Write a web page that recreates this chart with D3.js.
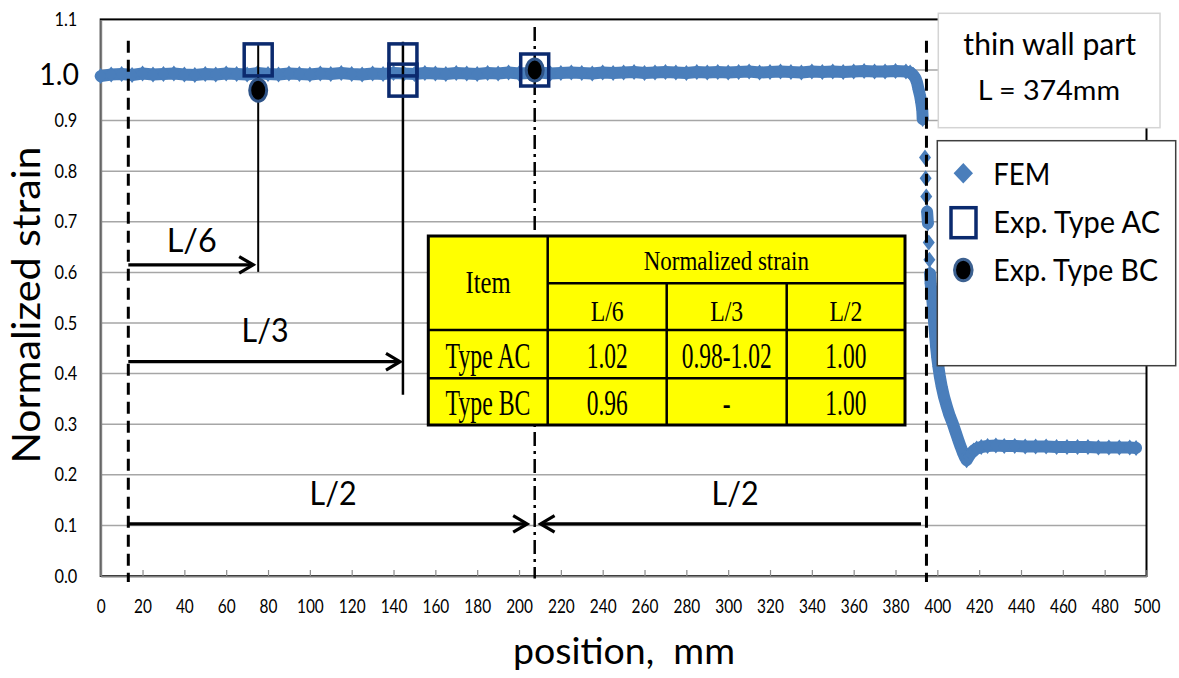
<!DOCTYPE html>
<html>
<head>
<meta charset="utf-8">
<script src="https://cdn.jsdelivr.net/npm/d3@7"></script>
<style>
  html, body { margin: 0; padding: 0; background: #fff; }
  svg { display: block; }
  text { font-family: Lato, "Open Sans", "Noto Sans", sans-serif; fill: #000; }
  .serif { font-family: "Liberation Serif", "Times New Roman", serif; }
</style>
</head>
<body>
<svg id="chart" width="1179" height="678"></svg>
<script>
// ---------------- data ----------------
const xTickValues = [0, 20, 40, 60, 80, 100, 120, 140, 160, 180, 200, 220, 240, 260, 280,
  300, 320, 340, 360, 380, 400, 420, 440, 460, 480, 500];
const yTickValues = [0.0, 0.1, 0.2, 0.3, 0.4, 0.5, 0.6, 0.7, 0.8, 0.9, 1.0, 1.1];

// FEM strain distribution along the part (position in mm, normalized strain)
const femPosition = [
  0, 5, 10, 15, 20, 25, 30, 35, 40, 45,
  50, 55, 60, 65, 70, 75, 80, 85, 90, 95,
  100, 105, 110, 115, 120, 125, 130, 135, 140, 145,
  150, 155, 160, 165, 170, 175, 180, 185, 190, 195,
  200, 205, 210, 215, 220, 225, 230, 235, 240, 245,
  250, 255, 260, 265, 270, 275, 280, 285, 290, 295,
  300, 305, 310, 315, 320, 325, 330, 335, 340, 345,
  350, 355, 360, 365, 370, 375, 380, 385,
  387, 388.5, 389.5, 390.3, 391, 391.7, 392.3, 392.8, 393.0,
  394.1, 394.4, 394.7, 395.1, 395.5, 395.9, 396.2, 396.5, 396.8, 397.3,
  397.8, 398.2, 398.6, 399.0, 399.4, 399.9, 400.5, 401.2, 402.1, 403.2,
  404.5, 405.8, 407.3, 408.6, 410.0, 411.2, 412.4, 413.3, 414.0, 415.0,
  416.0, 417.4, 418.8, 421, 424, 428, 432, 437, 442, 447,
  452, 457, 462, 467, 472, 477, 482, 487, 492, 495
];
const femStrain = [
  0.988, 0.991, 0.992, 0.990, 0.993, 0.991, 0.992, 0.993, 0.991, 0.990,
  0.992, 0.991, 0.993, 0.992, 0.991, 0.994, 0.992, 0.991, 0.993, 0.992,
  0.991, 0.993, 0.992, 0.994, 0.992, 0.991, 0.993, 0.992, 0.994, 0.993,
  0.992, 0.994, 0.993, 0.992, 0.994, 0.993, 0.992, 0.994, 0.993, 0.995,
  0.993, 0.994, 0.995, 0.993, 0.994, 0.995, 0.994, 0.993, 0.995, 0.994,
  0.995, 0.996, 0.994, 0.995, 0.996, 0.995, 0.994, 0.996, 0.995, 0.996,
  0.995, 0.996, 0.997, 0.995, 0.996, 0.997, 0.996, 0.995, 0.997, 0.996,
  0.997, 0.996, 0.997, 0.998, 0.997, 0.997, 0.998, 0.997,
  0.995, 0.990, 0.984, 0.975, 0.962, 0.950, 0.936, 0.921, 0.903,
  0.827, 0.786, 0.750, 0.720, 0.697, 0.659, 0.625, 0.598, 0.578, 0.559,
  0.537, 0.515, 0.493, 0.473, 0.453, 0.433, 0.414, 0.394, 0.374, 0.354,
  0.335, 0.318, 0.302, 0.286, 0.269, 0.255, 0.242, 0.234, 0.229, 0.236,
  0.242, 0.248, 0.252, 0.255, 0.257, 0.258, 0.257, 0.257, 0.256, 0.256,
  0.256, 0.255, 0.255, 0.255, 0.255, 0.254, 0.254, 0.254, 0.254, 0.253
];

// Measurement sections (L = 374 mm thin wall part)
const sectionNames = ["L/6", "L/3", "L/2"];
const sectionPosition = [75.3, 144.5, 207.5];
const wallEndPosition = [13.2, 394.8];

// Experimental results
const typeACPosition = [75.3, 144.5, 144.5, 207.5];
const typeACStrain = [1.02, 1.02, 0.98, 1.00];
const typeBCPosition = [75.3, 207.5];
const typeBCStrain = [0.96, 1.00];

// ---------------- layout ----------------
const svg = d3.select("#chart");
const plot = { left: 100.7, right: 1146.5, top: 19.4, bottom: 576 };
const x = d3.scaleLinear().domain([0, 500]).range([plot.left, plot.right]);
const y = d3.scaleLinear().domain([0, 1.1]).range([plot.bottom, plot.top]);

const FEM_BLUE = "#4a7ebb";
const NAVY = "#0b2a6e";

// squeeze text horizontally by factor f of its natural length
function squeeze(sel, f) {
  sel.each(function () {
    const w = this.getComputedTextLength();
    d3.select(this).attr("textLength", w * f).attr("lengthAdjust", "spacingAndGlyphs");
  });
}
function fitWidth(sel, w) {
  sel.attr("textLength", w).attr("lengthAdjust", "spacingAndGlyphs");
}

// ---------------- grid + frame ----------------
svg.append("g").selectAll("line")
  .data(yTickValues.filter(v => v > 0 && v < 1.05))
  .join("line")
  .attr("x1", plot.left).attr("x2", plot.right)
  .attr("y1", d => y(d)).attr("y2", d => y(d))
  .attr("stroke", "#a6a6a6").attr("stroke-width", 1.5);

svg.append("rect")
  .attr("x", plot.left).attr("y", plot.top)
  .attr("width", plot.right - plot.left).attr("height", plot.bottom - plot.top)
  .attr("fill", "none").attr("stroke", "#000").attr("stroke-width", 2);

// x axis (ticks pointing into the plot)
const xAxis = svg.append("g")
  .attr("transform", `translate(0,${plot.bottom})`)
  .call(d3.axisBottom(x).tickValues(xTickValues).tickSizeInner(-6).tickSizeOuter(0).tickPadding(23));
xAxis.select(".domain").attr("stroke", "#7f7f7f").attr("stroke-width", 2);
xAxis.selectAll(".tick line").attr("stroke", "#8c8c8c").attr("stroke-width", 1.2);
xAxis.selectAll(".tick text").attr("font-size", 19.5).attr("fill", "#000")
  .style("font-family", "Lato, sans-serif").call(squeeze, 0.79);

// y axis
const yAxis = svg.append("g")
  .attr("transform", `translate(${plot.left},0)`)
  .call(d3.axisLeft(y).tickValues(yTickValues).tickSize(0).tickPadding(23.4).tickFormat(d3.format(".1f")));
yAxis.select(".domain").attr("stroke", "#7f7f7f").attr("stroke-width", 2);
yAxis.selectAll(".tick text").attr("font-size", 19).attr("fill", "#000")
  .style("font-family", "Lato, sans-serif").call(squeeze, 0.86);
yAxis.selectAll(".tick text").filter(d => Math.abs(d - 1) < 1e-9)
  .attr("font-size", 30).attr("x", -21.7).attr("dy", "0.48em")
  .call(fitWidth, 39.7);

// ---------------- FEM series ----------------
const fem = femPosition.map((p, i) => ({ px: x(p), py: y(femStrain[i]) }));
const femLinks = [];
for (let i = 1; i < fem.length; i++) {
  const a = fem[i - 1], b = fem[i];
  if (Math.hypot(b.px - a.px, b.py - a.py) < 12) femLinks.push([a, b]);
}
svg.append("path")
  .attr("d", femLinks.map(([a, b]) => `M${a.px},${a.py}L${b.px},${b.py}`).join(""))
  .attr("fill", "none").attr("stroke", FEM_BLUE).attr("stroke-width", 12)
  .attr("stroke-linecap", "round").attr("stroke-linejoin", "round");
const diamond = (hw, hh) => `M0,${-hh}L${hw},0L0,${hh}L${-hw},0Z`;
svg.append("g").selectAll("path")
  .data(fem).join("path")
  .attr("transform", d => `translate(${d.px},${d.py})`)
  .attr("d", diamond(6, 8))
  .attr("fill", FEM_BLUE);

// ---------------- section guide lines ----------------
svg.append("g").selectAll("line")
  .data(wallEndPosition).join("line")
  .attr("x1", d => x(d)).attr("x2", d => x(d))
  .attr("y1", y(1.058)).attr("y2", y(-0.012))
  .attr("stroke", "#000").attr("stroke-width", 3).attr("stroke-dasharray", "12,7");

svg.append("line")
  .attr("x1", x(sectionPosition[2])).attr("x2", x(sectionPosition[2]))
  .attr("y1", y(1.085)).attr("y2", y(-0.005))
  .attr("stroke", "#000").attr("stroke-width", 2.5).attr("stroke-dasharray", "14,5,3,5");

// ---------------- result table ----------------
const tcols = [428.3, 547.7, 666.7, 786.7, 905];
const trows = [236, 283.3, 330, 378.3, 425];
const table = svg.append("g");
table.append("rect")
  .attr("x", tcols[0]).attr("y", trows[0])
  .attr("width", tcols[4] - tcols[0]).attr("height", trows[4] - trows[0])
  .attr("fill", "#ffff00");
const tLines = [
  [tcols[1], trows[0], tcols[1], trows[4]],
  [tcols[1], trows[1], tcols[4], trows[1]],
  [tcols[2], trows[1], tcols[2], trows[4]],
  [tcols[3], trows[1], tcols[3], trows[4]],
  [tcols[0], trows[2], tcols[4], trows[2]],
  [tcols[0], trows[3], tcols[4], trows[3]]
];
table.selectAll("line.cell").data(tLines).join("line")
  .attr("x1", d => d[0]).attr("y1", d => d[1]).attr("x2", d => d[2]).attr("y2", d => d[3])
  .attr("stroke", "#000").attr("stroke-width", 2.5);
table.append("rect")
  .attr("x", tcols[0]).attr("y", trows[0])
  .attr("width", tcols[4] - tcols[0]).attr("height", trows[4] - trows[0])
  .attr("fill", "none").attr("stroke", "#000").attr("stroke-width", 3);

const fmt = d3.format(".2f");
const acCells = sectionPosition.map(p => {
  const v = typeACStrain.filter((s, i) => typeACPosition[i] === p);
  if (!v.length) return "-";
  const lo = d3.min(v), hi = d3.max(v);
  return lo === hi ? fmt(lo) : `${fmt(lo)}-${fmt(hi)}`;
});
const bcCells = sectionPosition.map(p => {
  const i = typeBCPosition.indexOf(p);
  return i < 0 ? "-" : fmt(typeBCStrain[i]);
});
const colMid = i => (tcols[i] + tcols[i + 1]) / 2;

function tText(str, cx, base, size, f) {
  table.append("text").attr("class", "serif")
    .attr("x", cx).attr("y", base).attr("text-anchor", "middle")
    .attr("font-size", size).text(str).call(squeeze, f);
}
tText("Item", colMid(0), 293.3, 32, 0.77);
tText("Normalized strain", (tcols[1] + tcols[4]) / 2, 270, 28, 0.82);
sectionNames.forEach((n, i) => tText(n, colMid(i + 1), 320.7, 30, 0.79));
tText("Type AC", colMid(0), 368.3, 35, 0.68);
tText("Type BC", colMid(0), 415, 35, 0.68);
acCells.forEach((c, i) => tText(c, colMid(i + 1), 368.3, 35, 0.67));
bcCells.forEach((c, i) => tText(c, colMid(i + 1), 415, 35, 0.67));

// ---------------- distance arrows ----------------
const ann = svg.append("g");
function arrow(x1, x2, yv, w) {
  const px1 = x(x1), px2 = x(x2), py = y(yv);
  const dir = Math.sign(px2 - px1);
  ann.append("line").attr("x1", px1).attr("x2", px2 - dir * 1.5).attr("y1", py).attr("y2", py)
    .attr("stroke", "#000").attr("stroke-width", w);
  ann.append("path")
    .attr("d", `M${px2 - dir * 14},${py - 8.3}L${px2},${py}L${px2 - dir * 14},${py + 8.3}`)
    .attr("fill", "none").attr("stroke", "#000").attr("stroke-width", w)
    .attr("stroke-linejoin", "miter");
}
function vline(p, v1, v2, w) {
  ann.append("line").attr("x1", x(p)).attr("x2", x(p)).attr("y1", y(v1)).attr("y2", y(v2))
    .attr("stroke", "#000").attr("stroke-width", w);
}
function annText(str, p, v, width) {
  ann.append("text").attr("x", x(p)).attr("y", y(v)).attr("text-anchor", "middle")
    .attr("font-size", 33).text(str).call(fitWidth, width);
}
vline(sectionPosition[0], 1.05, 0.601, 2);
vline(sectionPosition[1], 1.056, 0.358, 2.5);
arrow(wallEndPosition[0], sectionPosition[0] - 2.4, 0.615, 3.2);
arrow(wallEndPosition[0], sectionPosition[1] - 1.4, 0.4235, 3.2);
arrow(wallEndPosition[0], sectionPosition[2] - 3.6, 0.103, 3.2);
arrow(wallEndPosition[1] - 2.6, sectionPosition[2] + 2.8, 0.103, 3.2);
annText("L/6", 43.5, 0.641, 50);
annText("L/3", 78.6, 0.463, 47);
annText("L/2", 111.1, 0.140, 47);
annText("L/2", 303.3, 0.140, 47);

// ---------------- experimental markers ----------------
svg.append("g").selectAll("rect")
  .data(typeACPosition.map((p, i) => [p, typeACStrain[i]]))
  .join("rect")
  .attr("x", d => x(d[0]) - 14).attr("y", d => y(d[1]) - 16)
  .attr("width", 28).attr("height", 32)
  .attr("fill", "none").attr("stroke", NAVY).attr("stroke-width", 3.5);
svg.append("g").selectAll("ellipse")
  .data(typeBCPosition.map((p, i) => [p, typeBCStrain[i]]))
  .join("ellipse")
  .attr("cx", d => x(d[0])).attr("cy", d => y(d[1]))
  .attr("rx", 8.5).attr("ry", 11)
  .attr("fill", "#000").attr("stroke", "#2f5488").attr("stroke-width", 3);

// ---------------- note box ----------------
svg.append("rect").attr("x", 938.3).attr("y", 13.3).attr("width", 221.7).attr("height", 114.4)
  .attr("fill", "#fff").attr("stroke", "#d4d4d4").attr("stroke-width", 1.5);
svg.append("text").attr("x", 1049.7).attr("y", 55).attr("text-anchor", "middle")
  .attr("font-size", 30).text("thin wall part").call(fitWidth, 172.7);
svg.append("text").attr("x", 1048.9).attr("y", 100).attr("text-anchor", "middle")
  .attr("font-size", 27).text("L = 374mm").call(fitWidth, 142.3);

// ---------------- legend ----------------
const lg = svg.append("g");
lg.append("rect").attr("x", 937.3).attr("y", 140.7).attr("width", 238.4).attr("height", 225)
  .attr("fill", "#fff").attr("stroke", "#3f3f3f").attr("stroke-width", 1.5);
lg.append("path").attr("transform", "translate(963.3,173.3)").attr("d", diamond(9.7, 10.3))
  .attr("fill", FEM_BLUE);
lg.append("rect").attr("x", 951).attr("y", 207.7).attr("width", 25).attr("height", 30)
  .attr("fill", "none").attr("stroke", NAVY).attr("stroke-width", 3.5);
lg.append("ellipse").attr("cx", 963.3).attr("cy", 270).attr("rx", 8.8).attr("ry", 10.8)
  .attr("fill", "#000").attr("stroke", "#3d6190").attr("stroke-width", 3);
const legendLabels = ["FEM", "Exp. Type AC", "Exp. Type BC"];
const legendBase = [185, 233.3, 281];
const legendWidth = [57, 166.7, 164.7];
legendLabels.forEach((t, i) => {
  lg.append("text").attr("x", 993.3).attr("y", legendBase[i]).attr("font-size", 30)
    .text(t).call(fitWidth, legendWidth[i]);
});

// ---------------- axis titles ----------------
svg.append("text").attr("x", 624).attr("y", 664).attr("text-anchor", "middle")
  .attr("font-size", 37).style("white-space", "pre").text("position,  mm").call(fitWidth, 222);
svg.append("text").attr("transform", "translate(40,305) rotate(-90)").attr("text-anchor", "middle")
  .attr("font-size", 38).text("Normalized strain").call(fitWidth, 317);
</script>
</body>
</html>
